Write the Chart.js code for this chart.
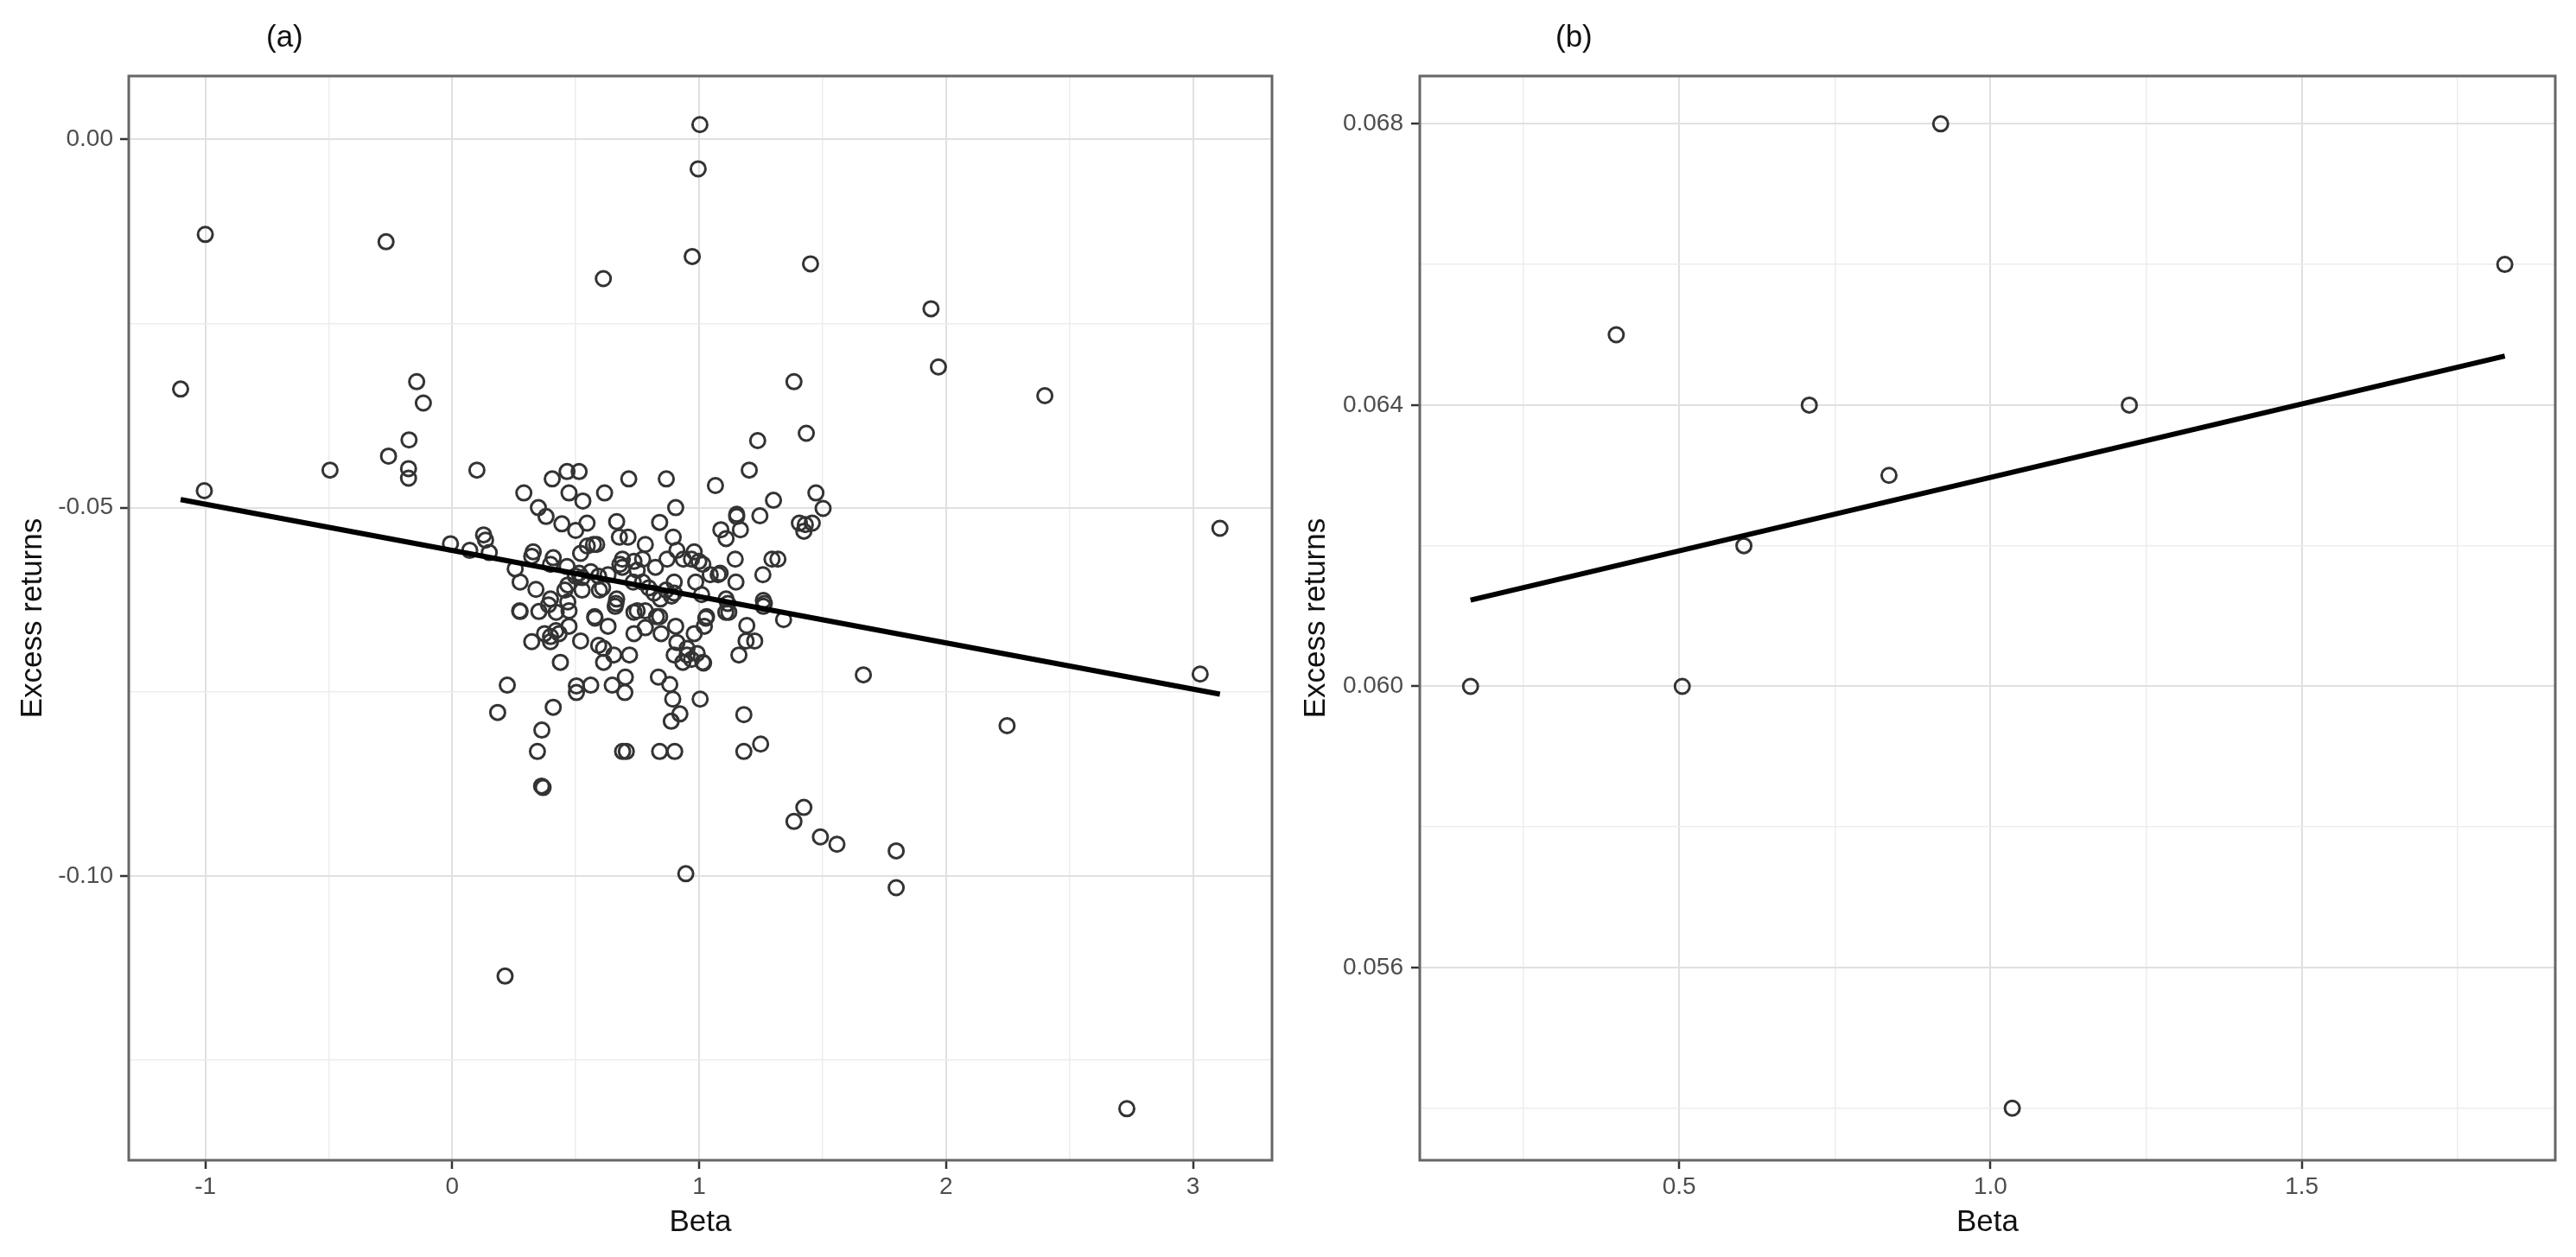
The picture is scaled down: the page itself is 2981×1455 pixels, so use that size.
<!DOCTYPE html>
<html>
<head>
<meta charset="utf-8">
<script src="https://cdn.jsdelivr.net/npm/chart.js@4.4.1/dist/chart.umd.min.js"></script>
<style>
  html, body { margin: 0; padding: 0; background: #fff; }
  #wrap { position: relative; width: 2981px; height: 1455px; overflow: hidden; }
  canvas { position: absolute; top: 0; }
  #chartA { left: 0; }
  #chartB { left: 1490px; }
</style>
</head>
<body>
<div id="wrap">
  <canvas id="chartA" width="1490" height="1455"></canvas>
  <canvas id="chartB" width="1491" height="1455"></canvas>
</div>
<script>

// Panel (a): beta vs excess returns, all stocks (paired by index)

var betaA = [
    -1.100, -1.000, -1.004, -0.268, -0.495, -0.258, -0.175, -0.177, -0.177, -0.144,
    -0.117, -0.007, 0.100, 1.003, 0.996, 0.972, 0.612, 1.451, 1.939, 1.969,
    2.400, 1.384, 1.434, 1.237, 1.203, 3.109, 3.029, 1.665, 2.247, 2.732,
    1.798, 1.798, 1.558, 1.491, 1.424, 1.384, 0.946, 0.214, 0.184,
    0.071, 0.127, 0.135, 0.150, 0.290, 0.405, 0.465, 0.514, 0.473, 0.529,
    0.617, 0.715, 0.349, 0.380, 0.444, 0.500, 0.546, 0.666, 0.677, 0.712,
    0.572, 0.547, 0.520, 0.328, 0.322, 0.409, 0.465, 0.398, 0.255, 0.275,
    0.339, 0.468, 0.526, 0.561, 0.631, 0.689, 0.689, 0.736, 0.596, 0.526,
    0.456, 0.398, 0.666,
    0.867, 1.066, 0.905, 0.840, 1.301, 1.473, 1.502, 1.152, 1.152, 1.246,
    1.406, 1.430, 1.458, 1.424, 1.088, 1.109, 1.167, 0.895, 0.782, 1.146,
    1.295, 1.319, 1.258, 1.149, 1.085, 1.045, 0.980, 0.969, 0.910, 0.870,
    0.823, 0.771, 0.899, 0.986, 1.015, 1.010, 1.109, 1.260, 0.771, 0.817,
    0.899,
    0.275, 0.351, 0.421, 0.473, 0.578, 0.631, 0.660, 0.736, 0.736, 0.473,
    0.374, 0.322, 0.398, 0.433, 0.520, 0.613, 0.654, 0.613, 0.718, 0.438,
    0.223, 0.409, 0.363, 0.345, 0.362, 0.368, 0.503, 0.503, 0.561, 0.648,
    0.701, 0.699, 0.690, 0.705,
    0.840, 0.901, 1.181, 1.249, 1.181, 1.004, 0.835, 0.881, 0.893, 0.922,
    0.887, 1.018, 1.161, 1.190, 1.225, 1.193, 1.342, 1.120, 1.027, 1.021,
    0.846, 0.905, 0.782, 1.260, 0.782, 0.840, 0.910, 0.899, 0.980, 0.951,
    0.951, 0.969, 0.934, 0.992, 1.015,
    0.499, 0.593, 0.609, 0.679, 0.663, 0.577, 0.749, 0.827, 0.843, 0.888,
    0.796, 0.468, 0.390, 0.273, 1.030, 1.116, 1.108, 1.264, 1.077,
    0.585, 0.749, 0.936, 0.999, 0.866, 0.733, 0.514, 0.398, 0.420, 0.593
];

var excessA = [
    -0.0339, -0.0129, -0.0477, -0.0139, -0.0449, -0.0430, -0.0408, -0.0447, -0.0460, -0.0329,
    -0.0358, -0.0549, -0.0449, 0.0020, -0.0040, -0.0159, -0.0189, -0.0169, -0.0230, -0.0309,
    -0.0348, -0.0329, -0.0399, -0.0409, -0.0449, -0.0528, -0.0726, -0.0727, -0.0796, -0.1316,
    -0.0966, -0.1016, -0.0957, -0.0947, -0.0907, -0.0926, -0.0997, -0.1136, -0.0778,
    -0.0558, -0.0537, -0.0544, -0.0561, -0.0480, -0.0461, -0.0451, -0.0451, -0.0480, -0.0491,
    -0.0480, -0.0461, -0.0500, -0.0512, -0.0522, -0.0531, -0.0521, -0.0519, -0.0540, -0.0540,
    -0.0550, -0.0552, -0.0562, -0.0560, -0.0566, -0.0568, -0.0580, -0.0577, -0.0583, -0.0601,
    -0.0611, -0.0605, -0.0595, -0.0587, -0.0591, -0.0570, -0.0581, -0.0573, -0.0612, -0.0612,
    -0.0612, -0.0624, -0.0624,
    -0.0461, -0.0470, -0.0500, -0.0520, -0.0490, -0.0480, -0.0501, -0.0509, -0.0512, -0.0511,
    -0.0521, -0.0523, -0.0521, -0.0532, -0.0530, -0.0542, -0.0530, -0.0540, -0.0550, -0.0570,
    -0.0570, -0.0570, -0.0591, -0.0601, -0.0589, -0.0591, -0.0560, -0.0570, -0.0558, -0.0570,
    -0.0581, -0.0570, -0.0601, -0.0601, -0.0577, -0.0618, -0.0624, -0.0626, -0.0601, -0.0616,
    -0.0616,
    -0.0641, -0.0641, -0.0642, -0.0640, -0.0650, -0.0661, -0.0634, -0.0642, -0.0671, -0.0661,
    -0.0671, -0.0682, -0.0682, -0.0671, -0.0681, -0.0691, -0.0700, -0.0710, -0.0700, -0.0710,
    -0.0741, -0.0771, -0.0802, -0.0831, -0.0878, -0.0880, -0.0742, -0.0751, -0.0741, -0.0741,
    -0.0730, -0.0751, -0.0831, -0.0831,
    -0.0831, -0.0831, -0.0831, -0.0821, -0.0781, -0.0760, -0.0730, -0.0740, -0.0760, -0.0780,
    -0.0790, -0.0711, -0.0700, -0.0681, -0.0681, -0.0660, -0.0652, -0.0642, -0.0650, -0.0661,
    -0.0671, -0.0661, -0.0663, -0.0634, -0.0640, -0.0648, -0.0683, -0.0700, -0.0671, -0.0691,
    -0.0700, -0.0706, -0.0710, -0.0698, -0.0710,
    -0.0593, -0.0593, -0.0609, -0.0577, -0.0630, -0.0648, -0.0640, -0.0648, -0.0624, -0.0620,
    -0.0609, -0.0628, -0.0632, -0.0640, -0.0648, -0.0630, -0.0642, -0.0630, -0.0591,
    -0.0550, -0.0585, -0.0570, -0.0573, -0.0612, -0.0601, -0.0589, -0.0675, -0.0667, -0.0687
];

// Panel (b): beta vs excess returns, portfolios

var betaB   = [0.165, 0.399, 0.505, 0.604, 0.709, 0.837, 0.920, 1.035, 1.223, 1.826];
var excessB = [0.060, 0.065, 0.060, 0.062, 0.064, 0.063, 0.068, 0.054, 0.064, 0.066];

// Axis breaks and labels

var xMajorA = [-1, 0, 1, 2, 3];
var xMinorA = [-0.5, 0.5, 1.5, 2.5];
var xLabelsA = ['-1', '0', '1', '2', '3'];
var yMajorA = [0, -0.05, -0.10];
var yMinorA = [-0.025, -0.075, -0.125];
var yLabelsA = ['0.00', '-0.05', '-0.10'];

var xMajorB = [0.5, 1.0, 1.5];
var xMinorB = [0.25, 0.75, 1.25, 1.75];
var xLabelsB = ['0.5', '1.0', '1.5'];
var yMajorB = [0.056, 0.060, 0.064, 0.068];
var yMinorB = [0.054, 0.058, 0.062, 0.066];
var yLabelsB = ['0.056', '0.060', '0.064', '0.068'];


// Helpers

function toPoints(xs, ys) {
    return xs.map(function (x, i) { return { x: x, y: ys[i] }; });
}

function fitLine(xs, ys) {
    var n = xs.length, mx = 0, my = 0, sxy = 0, sxx = 0;
    for (var i = 0; i < n; i++) { mx += xs[i]; my += ys[i]; }
    mx /= n; my /= n;
    for (var j = 0; j < n; j++) {
        sxy += (xs[j] - mx) * (ys[j] - my);
        sxx += (xs[j] - mx) * (xs[j] - mx);
    }
    var slope = sxy / sxx, icpt = my - slope * mx;
    var lo = Math.min.apply(null, xs), hi = Math.max.apply(null, xs);
    return [{ x: lo, y: icpt + slope * lo }, { x: hi, y: icpt + slope * hi }];
}

// ggplot-like panel border and (a)/(b) tag
var panelFrame = {
    id: 'panelFrame',
    afterDatasetsDraw: function (chart, args, opts) {
        var a = chart.chartArea, ctx = chart.ctx;
        ctx.save();
        ctx.strokeStyle = '#666';
        ctx.lineWidth = 3;
        ctx.strokeRect(a.left, a.top, a.right - a.left, a.bottom - a.top);
        ctx.fillStyle = '#111';
        ctx.font = '35px "Liberation Sans", Arial, sans-serif';
        ctx.textBaseline = 'middle';
        ctx.textAlign = 'left';
        ctx.fillText(opts.tag, a.left + opts.tagOffset, 44);
        ctx.restore();
    }
};

function axis(majors, minors, labels, lo, hi, title, size, tickPad, titlePad) {
    var isMajor = function (v) { return majors.indexOf(v) !== -1; };
    return {
        type: 'linear',
        min: lo,
        max: hi,
        afterBuildTicks: function (s) {
            s.ticks = majors.concat(minors).map(function (v) { return { value: v }; });
        },
        afterFit: function (s) {
            if (s.isHorizontal()) { s.height = size; } else { s.width = size; }
        },
        border: { display: false },
        grid: {
            color: function (c) { return isMajor(c.tick.value) ? '#e0e0e0' : '#ededed'; },
            lineWidth: function (c) { return isMajor(c.tick.value) ? 2 : 1.5; },
            tickColor: function (c) { return isMajor(c.tick.value) ? '#333' : 'rgba(0,0,0,0)'; },
            tickWidth: 2.5,
            tickLength: 10
        },
        ticks: {
            autoSkip: false,
            maxRotation: 0,
            padding: tickPad,
            color: '#4d4d4d',
            font: { family: '"Liberation Sans", Arial, sans-serif', size: 28 },
            callback: function (v) {
                var k = majors.indexOf(v);
                return k === -1 ? '' : labels[k];
            }
        },
        title: {
            display: true,
            text: title,
            color: '#111',
            padding: titlePad,
            font: { family: '"Liberation Sans", Arial, sans-serif', size: 35 }
        }
    };
}

function makePanel(id, xs, ys, opts) {
    return new Chart(document.getElementById(id), {
        type: 'scatter',
        data: {
            datasets: [{
                type: 'line',
                data: fitLine(xs, ys),
                borderColor: '#000',
                borderWidth: 6,
                pointRadius: 0,
                fill: false
            }, {
                data: toPoints(xs, ys),
                borderColor: '#333',
                backgroundColor: 'rgba(0,0,0,0)',
                borderWidth: 3,
                pointRadius: 8.5
            }]
        },
        options: {
            responsive: false,
            animation: false,
            devicePixelRatio: 1,
            layout: { padding: { top: 88, right: opts.padRight, left: 0, bottom: 0 } },
            plugins: {
                legend: { display: false },
                tooltip: { enabled: false },
                panelFrame: { tag: opts.tag, tagOffset: opts.tagOffset }
            },
            scales: {
                x: opts.x,
                y: opts.y
            }
        },
        plugins: [panelFrame]
    });
}

makePanel('chartA', betaA, excessA, {
    tag: '(a)', tagOffset: 159, padRight: 18,
    x: axis(xMajorA, xMinorA, xLabelsA, -1.31, 3.32, 'Beta', 112, 4, { top: 0, bottom: 19 }),
    y: axis(yMajorA, yMinorA, yLabelsA, -0.1386, 0.0086, 'Excess returns', 149, 8, { top: 17, bottom: 0 })
});

makePanel('chartB', betaB, excessB, {
    tag: '(b)', tagOffset: 157, padRight: 24,
    x: axis(xMajorB, xMinorB, xLabelsB, 0.0835, 1.907, 'Beta', 112, 4, { top: 0, bottom: 19 }),
    y: axis(yMajorB, yMinorB, yLabelsB, 0.05326, 0.06868, 'Excess returns', 153, 9, { top: 12, bottom: 0 })
});

</script>
</body>
</html>
